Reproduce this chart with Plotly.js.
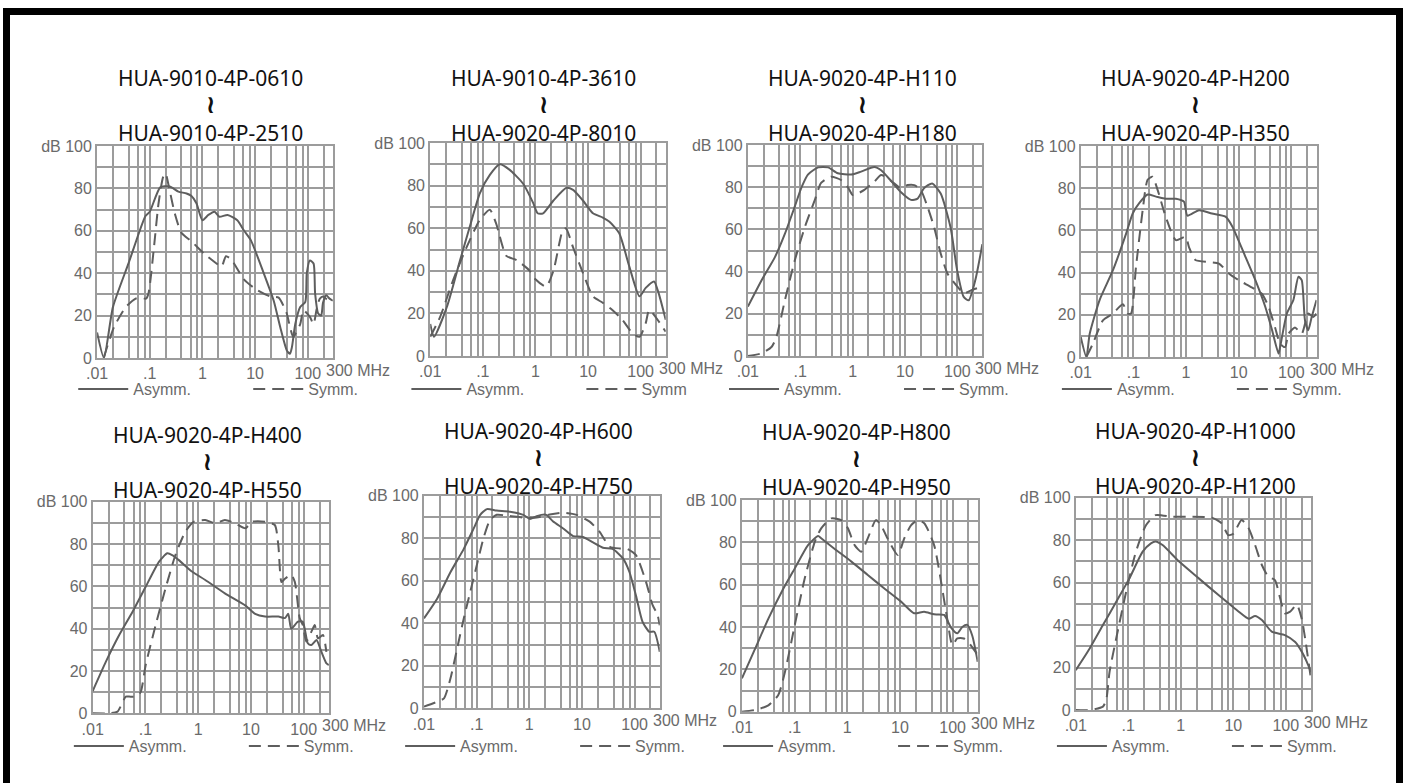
<!DOCTYPE html>
<html>
<head>
<meta charset="utf-8">
<script src="https://cdn.plot.ly/plotly-3.0.1.min.js"></script>
<style>
  html, body { margin: 0; padding: 0; background: #fff; overflow: hidden; }
  #chart { position: absolute; left: 0; top: 0; width: 1407px; height: 783px; }
  #frame { position: absolute; left: 3px; top: 8px; width: 1400px; height: 800px;
           box-sizing: border-box; border: 7px solid #000; border-bottom: none; pointer-events: none; }
</style>
</head>
<body>
<div id="chart"></div>
<div id="frame"></div>
<script>
// ---------- data (frequency in MHz, attenuation in dB) ----------
const titlesTop = ['HUA-9010-4P-0610', 'HUA-9010-4P-3610', 'HUA-9020-4P-H110', 'HUA-9020-4P-H200',
                   'HUA-9020-4P-H400', 'HUA-9020-4P-H600', 'HUA-9020-4P-H800', 'HUA-9020-4P-H1000'];
const titlesBottom = ['HUA-9010-4P-2510', 'HUA-9020-4P-8010', 'HUA-9020-4P-H180', 'HUA-9020-4P-H350',
                      'HUA-9020-4P-H550', 'HUA-9020-4P-H750', 'HUA-9020-4P-H950', 'HUA-9020-4P-H1200'];
const rangeMark = '≀';
const asymmLabels = ['Asymm.', 'Asymm.', 'Asymm.', 'Asymm.', 'Asymm.', 'Asymm.', 'Asymm.', 'Asymm.'];
const symmLabels = ['Symm.', 'Symm', 'Symm.', 'Symm.', 'Symm.', 'Symm.', 'Symm.', 'Symm.'];

// grid positions and tick labels (blank label = grid line only)
const xTickVals = [0.01,0.02,0.04,0.06,0.08, 0.1,0.2,0.4,0.6,0.8, 1,2,4,6,8, 10,20,40,60,80, 100,200,300];
const xTickText = ['.01','','','','', '.1','','','','', '1','','','','', '10','','','','', '100','',''];
const xEndLabel = '300 MHz';
const yTickVals = [0,10,20,30,40,50,60,70,80,90,100];
const yTickText = ['0','','20','','40','','60','','80','','dB 100'];

const f1a = [0.01,0.0135,0.02,0.04,0.083,0.1,0.158,0.23,0.28,0.35,0.5,0.62,0.77,1.0,1.3,1.7,2.1,3,4.6,6.2,8.3,14.6,22.6,30,40,46,50,58,72,90,96,110,129,138,158,180,195,224,260,300];
const d1a = [12,0,24,45,67,69,80.5,81,80,78.5,77.6,76.4,73,65,67.5,69,66.6,67.5,65,60,55.6,40,27,14.6,3.6,2,5,16,24,26.5,40,46,44.6,30.6,21,20,26,29.6,28,27];
const f1s = [0.0135,0.021,0.035,0.054,0.067,0.085,0.095,0.12,0.147,0.18,0.2,0.23,0.3,0.4,0.62,1.1,1.85,2.3,2.8,3.5,6.2,11,19.5,28,40,46,53,72,83,110,129,150,170,195,248,280];
const d1s = [0.5,14.6,24,28,28.5,28,30.6,52,73,85.5,87,81,68,59,55,49,44.6,43,48,46.6,37,32,29,28.5,21,14.6,10,16,22.5,19.4,16,24,28,29,27,27];

const f2a = [0.01,0.0118,0.0207,0.037,0.057,0.088,0.136,0.21,0.32,0.58,0.9,1.1,1.4,2.2,3.9,5.2,8,12.4,19.1,25.6,39,61,95,125,180,220,300];
const d2a = [15,9,23,45,61,76.5,85,90,87.5,81,72,67,67,73,79,78,73,67,65,63,57.7,42,28,32,35,29.5,17];
const f2s = [0.01,0.0155,0.0276,0.049,0.088,0.136,0.18,0.28,0.44,0.78,1.0,1.6,2.2,3.3,3.8,5.2,8,12.4,19,29,45,70,95,125,145,190,300];
const d2s = [9,18.5,36,51,64,68.7,62,47,45,40,36,32.6,40,59,60,51,39,28,25,21.6,17,10.7,9,15.4,21.6,18.5,11.4];

const f3a = [0.01,0.0184,0.033,0.051,0.079,0.106,0.14,0.22,0.34,0.52,0.94,1.45,2.6,3.5,5.4,8.4,13,17.4,23,33,48,74,99,132,164,220,300];
const d3a = [23.4,36,47,58,71,80,86,89.4,89.4,86.6,86,87.4,89.6,88,83,77.6,74,74.6,79.5,81.8,77,61,40.6,28,26.4,36,53];
const f3s = [0.01,0.0184,0.0285,0.035,0.051,0.079,0.122,0.19,0.25,0.39,0.6,0.81,1.0,1.25,1.67,2.6,3.5,5.4,8.4,11.2,15,20,26.8,36,48,65,99,132,190,300];
const d3s = [0,1.3,4.4,9,26.5,45.5,61,74,82,85,83.4,80,76.3,77,78.7,82.6,85.8,83,79.5,81,81,78.7,70.8,61,48.6,39,33,29.7,31.3,33];

const f4a = [0.01,0.0128,0.0148,0.0228,0.0407,0.0727,0.097,0.13,0.186,0.27,0.41,0.64,0.91,1.06,1.76,3.1,5.6,7.5,13.4,20.7,32,43,57,61,82,109,136,157,181,209,243,300];
const d4a = [9.5,0,11,27,41,58.5,68,73,77,76,75,75,73.6,67,69.6,68,66.5,62,47.5,36.4,23.7,12.7,1.6,4.7,20.6,27,38,36.4,17.4,12.7,19,27];
const f4s = [0.0128,0.017,0.0264,0.0407,0.063,0.078,0.09,0.112,0.15,0.186,0.23,0.29,0.41,0.64,0.98,1.14,1.5,2.7,4.2,6.5,10,17.7,27.5,37,49,61,76,88,117,157,209,260,300];
const d4s = [0,6.3,17.4,20.6,25,20.6,20.6,42.7,69.6,84,85.4,79,66.5,55.4,57,52,46,45,44.3,39.6,36.4,33,30,23.7,14,6.3,4.7,11,14,11,20.6,19,20.6];

const f5a = [0.01,0.0178,0.0318,0.057,0.101,0.18,0.26,0.32,0.43,0.76,1.36,3.2,7.8,12,18.5,33,44,51,58,78,96,120,140,175,217,270,300];
const d5a = [10.5,24.4,37,48,59.8,71.6,75.6,74.8,72.4,67,63,56.7,51,47,45.7,45.7,45,47,40,43.3,43.3,33,32.3,34.6,29,23.6,22.8];
const f5s = [0.01,0.0206,0.0295,0.0424,0.049,0.066,0.081,0.101,0.156,0.24,0.37,0.57,0.82,1.36,2.1,3.2,4.98,7.8,10.4,18.5,28.3,33,38,44,58,68,84,96,112,140,162,186,231,269];
const d5s = [0,0,0.8,7.9,7.9,7.9,10,22.8,41.7,59,74.8,85.8,90.5,91.3,89.8,91.3,89.8,87.4,90.5,90.5,89,79.5,62,63.6,65.4,62,45,41.7,33.9,38.6,41.7,35.4,37,29];

const f6a = [0.01,0.0179,0.0318,0.057,0.088,0.117,0.157,0.24,0.43,0.77,1.03,1.38,2.1,2.8,4.4,6.8,10.5,16.2,25,38,60,80,106,141,190,236,300];
const d6a = [42.3,51.7,64,75,84.6,91,93.7,93,92.5,91,89,90.4,91,88,84.6,81,80.6,78,75.5,75,70.5,64,53,40.8,36,36,26.6];
const f6s = [0.01,0.0179,0.024,0.0318,0.0425,0.057,0.076,0.101,0.135,0.18,0.24,0.43,0.77,1.38,2.45,4.4,7.9,14,21.7,33.6,52,69,106,164,219,273,300];
const d6s = [0.8,3.1,4.7,14,28,42.3,55,67.4,80,88.6,91,90.4,89.7,89.7,91.2,92,91,87.8,83,76,75.2,75.2,72,59.6,48.6,43.9,39];

const f7a = [0.01,0.0179,0.0318,0.057,0.101,0.18,0.28,0.32,0.57,1.2,2.45,5,10.5,18.6,28.8,44.6,69,92,123,153,190,236,300];
const d7a = [15.7,29.9,44,56.7,67.7,78.7,83,81.9,77,70.9,64.6,58.3,52,46.5,47.2,46,45.7,40,37,40,41,36,23.6];
const f7s = [0.01,0.0179,0.0318,0.049,0.066,0.101,0.156,0.24,0.32,0.5,0.77,1.03,1.38,1.84,2.45,3.5,4.4,5.8,9.1,12.1,16.2,21.7,29,44.6,59,79,99,123,164,219,300];
const d7s = [0,0.8,3,7.9,19,41,63,80,86.6,91.3,90.5,86.6,78.7,75.6,81.9,90.5,88,81.9,74,81.9,88,90.5,89,78.7,63,44,31.5,34.6,34.6,31.5,26.8];

const f8a = [0.01,0.0184,0.0329,0.059,0.105,0.188,0.27,0.33,0.45,0.93,2.2,5.3,12.7,19.6,26,35,54,96,151,201,250,300];
const d8a = [18.8,29,40,51,62,74.6,78.5,79.4,77.7,69.9,62,54,46.3,43,44.3,42.4,36.9,35.3,32,27.5,22.8,18];
const f8s = [0.01,0.0184,0.0329,0.038,0.044,0.059,0.091,0.14,0.217,0.33,0.68,1.4,3.9,6.0,8.0,10,14.4,19.6,26,35,46.5,62,78,96,121,162,201,233,300];
const d8s = [0,0,1.6,4.7,18,33.8,55.7,74.6,87,91.8,91,91,90.6,87.9,82.4,83,89.5,85.6,77.7,68.3,62.8,61.2,52.6,45.5,46.3,49.5,43,33.8,14.9];

const asymmF = [f1a, f2a, f3a, f4a, f5a, f6a, f7a, f8a];
const asymmD = [d1a, d2a, d3a, d4a, d5a, d6a, d7a, d8a];
const symmF = [f1s, f2s, f3s, f4s, f5s, f6s, f7s, f8s];
const symmD = [d1s, d2s, d3s, d4s, d5s, d6s, d7s, d8s];

// ---------- layout geometry (px in the 1407x783 page) ----------
const W = 1407, H = 783;
const boxes = [[97.7,335,146,358],[433,670,143,356],[752.7,988.7,145,356],[1087.7,1325,146,357],
               [93.3,331,501.7,713.3],[426.7,664,495.7,708.3],[746.7,984,500,711.7],[1082.7,1319.3,497.7,710]];
const titleMidY = [105, 105, 105, 105.5, 462.5, 458, 459.5, 458];   // centre of the 3-line title block
const titleX = [211.7, 546.7, 868, 1203, 209, 541.7, 861.7, 1203];
const legendY = [389, 389, 389, 389, 746, 746, 746, 746];

const lineColor = '#5e5e5e';
const gridColor = '#9c9c9c';
const tickFont = {family: 'Liberation Sans, Arial, sans-serif', size: 16, color: '#6a6a6a'};
const legendFont = {family: 'Liberation Sans, Arial, sans-serif', size: 16, color: '#6a6a6a'};
const titleFont = {family: 'Noto Sans, Open Sans, sans-serif', size: 21, color: '#111'};

const traces = [];
const layout = {
  width: W, height: H,
  margin: {l: 0, r: 0, t: 0, b: 0},
  paper_bgcolor: '#fff', plot_bgcolor: '#fff',
  showlegend: true,
  annotations: [],
};

for (let i = 0; i < 8; i++) {
  const n = i + 1;
  const xa = n === 1 ? 'xaxis' : 'xaxis' + n;
  const ya = n === 1 ? 'yaxis' : 'yaxis' + n;
  const xr = n === 1 ? 'x' : 'x' + n;
  const yr = n === 1 ? 'y' : 'y' + n;
  const lg = n === 1 ? 'legend' : 'legend' + n;
  const [l, r, t, b] = boxes[i];

  layout[xa] = {
    type: 'log', range: [Math.log10(0.01), Math.log10(300)],
    domain: [l / W, r / W], anchor: yr,
    tickmode: 'array', tickvals: xTickVals, ticktext: xTickText, ticks: '', tickangle: 0,
    tickfont: tickFont,
    showgrid: true, gridcolor: gridColor, gridwidth: 2,
    showline: true, mirror: true, linecolor: gridColor, linewidth: 2,
    zeroline: false, fixedrange: true,
  };
  layout[ya] = {
    range: [0, 100],
    domain: [1 - b / H, 1 - t / H], anchor: xr,
    tickmode: 'array', tickvals: yTickVals, ticktext: yTickText, ticks: '',
    tickfont: tickFont,
    showgrid: true, gridcolor: gridColor, gridwidth: 2,
    showline: true, mirror: true, linecolor: gridColor, linewidth: 2,
    zeroline: false, fixedrange: true,
  };
  layout[lg] = {
    orientation: 'h', x: (l - 24) / W, y: 1 - legendY[i] / H,
    xanchor: 'left', yanchor: 'middle',
    bgcolor: 'rgba(0,0,0,0)', borderwidth: 0,
    font: legendFont, itemwidth: 50, entrywidth: 110, entrywidthmode: 'pixels',
    itemclick: false, itemdoubleclick: false,
  };

  traces.push({
    type: 'scatter', mode: 'lines', x: asymmF[i], y: asymmD[i],
    xaxis: xr, yaxis: yr, legend: lg, name: asymmLabels[i],
    line: {color: lineColor, width: 2, shape: 'spline', smoothing: 0.6},
    hoverinfo: 'skip',
  });
  traces.push({
    type: 'scatter', mode: 'lines', x: symmF[i], y: symmD[i],
    xaxis: xr, yaxis: yr, legend: lg, name: symmLabels[i],
    line: {color: lineColor, width: 2, shape: 'spline', smoothing: 0.6, dash: '12px,7px'},
    hoverinfo: 'skip',
  });

  layout.annotations.push({
    xref: 'paper', yref: 'paper', x: titleX[i] / W, y: 1 - titleMidY[i] / H,
    xanchor: 'center', yanchor: 'middle',
    text: titlesTop[i] + '<br><span style="font-family:DejaVu Sans;font-size:25px"><b>' + rangeMark +
          '</b></span><br>' + titlesBottom[i],
    showarrow: false, font: titleFont, borderpad: 0,
  });
  layout.annotations.push({
    xref: xr + ' domain', yref: yr + ' domain', x: 1, y: 0,
    xanchor: 'left', yanchor: 'middle', xshift: -9, yshift: -12,
    text: xEndLabel, showarrow: false, font: tickFont,
  });
}

Plotly.newPlot('chart', traces, layout, {displayModeBar: false, staticPlot: true});
</script>
</body>
</html>
